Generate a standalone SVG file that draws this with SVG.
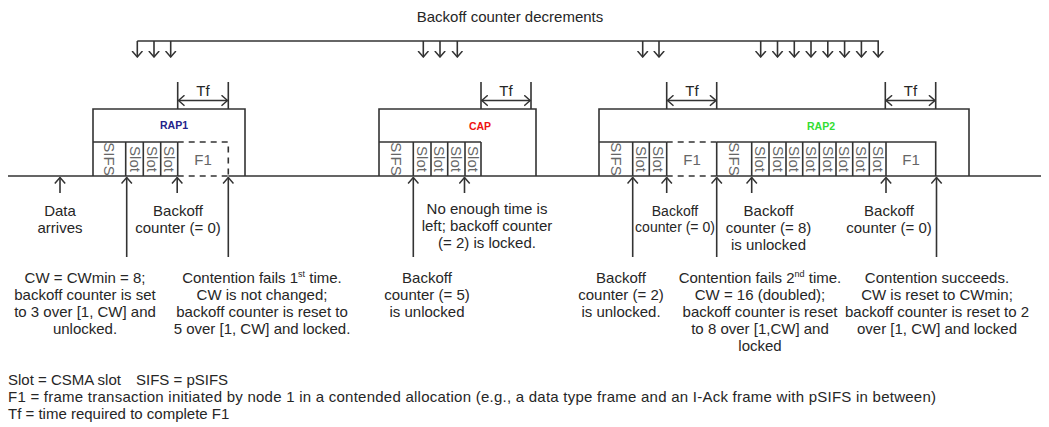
<svg xmlns="http://www.w3.org/2000/svg" width="1049" height="427" viewBox="0 0 1049 427">
  <defs>
    <style>
      .ln { stroke:#333; stroke-width:1.6; fill:none; }
      .dash { stroke-dasharray:6 5; }
      .t { font-family:"Liberation Sans", Arial, sans-serif; font-size:15px; fill:#262626; text-anchor:middle; }
      .lg { font-family:"Liberation Sans", Arial, sans-serif; font-size:15px; fill:#262626; }
      .cell { font-family:"Liberation Sans", Arial, sans-serif; font-size:15px; fill:#666; text-anchor:middle; }
      .lab { font-family:"Liberation Sans", Arial, sans-serif; font-size:10.5px; font-weight:bold; text-anchor:middle; }
      .arr { stroke:#333; stroke-width:1.6; fill:none; marker-end:url(#v); }
      .dbl { stroke:#333; stroke-width:1.6; fill:none; marker-start:url(#v); marker-end:url(#v); }
    </style>
    <marker id="v" viewBox="0 0 7 12" refX="6.5" refY="6" markerWidth="7" markerHeight="12" markerUnits="userSpaceOnUse" orient="auto-start-reverse">
      <path d="M0.5,0.8 L6.5,6 L0.5,11.2" fill="none" stroke="#333" stroke-width="1.5"/>
    </marker>
  </defs>

  <rect width="1049" height="427" fill="#fff"/>

  <!-- timeline -->
  <g id="timeline">
    <path class="ln" d="M8,176 H177.7 M228.3,176 H666.7 M716.7,176 H1041"/>
    <path class="ln dash" d="M177.7,176 H228.3 M666.7,176 H716.7"/>
  </g>

  <!-- RAP1 -->
  <g id="rap1">
    <path class="ln" d="M93,176 V109 H245 V176"/>
    <path class="ln" d="M93,142 H177.7 M125.7,142 V176 M143.3,142 V176 M160.7,142 V176 M177.7,142 V176"/>
    <path class="ln dash" d="M177.7,142 H228.3 V176"/>
    <text class="lab" x="174" y="129" fill="#23238a">RAP1</text>
    <text class="cell" transform="translate(109.3,159) rotate(90)" y="5">SIFS</text>
    <text class="cell" transform="translate(134.5,159) rotate(90)" y="5">Slot</text>
    <text class="cell" transform="translate(152,159) rotate(90)" y="5">Slot</text>
    <text class="cell" transform="translate(169.2,159) rotate(90)" y="5">Slot</text>
    <text class="cell" x="203" y="165">F1</text>
  </g>

  <!-- CAP -->
  <g id="cap">
    <path class="ln" d="M379,176 V109 H536 V176"/>
    <path class="ln" d="M379,142 H481 M413.3,142 V176 M431,142 V176 M447.7,142 V176 M465,142 V176 M481,142 V176"/>
    <text class="lab" x="480" y="130" fill="#ee1111">CAP</text>
    <text class="cell" transform="translate(396,159) rotate(90)" y="5">SIFS</text>
    <text class="cell" transform="translate(422.2,159) rotate(90)" y="5">Slot</text>
    <text class="cell" transform="translate(439.3,159) rotate(90)" y="5">Slot</text>
    <text class="cell" transform="translate(456.3,159) rotate(90)" y="5">Slot</text>
    <text class="cell" transform="translate(473,159) rotate(90)" y="5">Slot</text>
  </g>

  <!-- RAP2 -->
  <g id="rap2">
    <path class="ln" d="M599,176 V109 H969 V176"/>
    <path class="ln" d="M599,142 H666.7 M716.7,142 H935.7 V176 M632.7,142 V176 M649.3,142 V176 M666.7,142 V176 M716.7,142 V176 M751.7,142 V176 M769,142 V176 M786,142 V176 M802.7,142 V176 M819.3,142 V176 M836,142 V176 M852.7,142 V176 M869.3,142 V176 M886,142 V176"/>
    <path class="ln dash" d="M666.7,142 H716.7"/>
    <text class="lab" x="821" y="130" fill="#33dd33">RAP2</text>
    <text class="cell" transform="translate(615.8,159) rotate(90)" y="5">SIFS</text>
    <text class="cell" transform="translate(641,159) rotate(90)" y="5">Slot</text>
    <text class="cell" transform="translate(658,159) rotate(90)" y="5">Slot</text>
    <text class="cell" x="692" y="165">F1</text>
    <text class="cell" transform="translate(734.2,159) rotate(90)" y="5">SIFS</text>
    <text class="cell" transform="translate(760.3,159) rotate(90)" y="5">Slot</text>
    <text class="cell" transform="translate(777.5,159) rotate(90)" y="5">Slot</text>
    <text class="cell" transform="translate(794.3,159) rotate(90)" y="5">Slot</text>
    <text class="cell" transform="translate(811,159) rotate(90)" y="5">Slot</text>
    <text class="cell" transform="translate(827.7,159) rotate(90)" y="5">Slot</text>
    <text class="cell" transform="translate(844.3,159) rotate(90)" y="5">Slot</text>
    <text class="cell" transform="translate(861,159) rotate(90)" y="5">Slot</text>
    <text class="cell" transform="translate(877.7,159) rotate(90)" y="5">Slot</text>
    <text class="cell" x="911" y="165">F1</text>
  </g>

  <!-- connectors: decrement ticks, Tf spans, event arrows -->
  <g id="connectors">
    <path class="ln" d="M137.3,41 H879"/>
    <g>
      <path class="arr" d="M137.3,41 V57"/>
      <path class="arr" d="M154,41 V57"/>
      <path class="arr" d="M170.7,41 V57"/>
      <path class="arr" d="M423.3,41 V57"/>
      <path class="arr" d="M440,41 V57"/>
      <path class="arr" d="M457.3,41 V57"/>
      <path class="arr" d="M642.7,41 V57"/>
      <path class="arr" d="M659,41 V57"/>
      <path class="arr" d="M760.7,41 V57"/>
      <path class="arr" d="M777.5,41 V57"/>
      <path class="arr" d="M794.3,41 V57"/>
      <path class="arr" d="M811,41 V57"/>
      <path class="arr" d="M827.8,41 V57"/>
      <path class="arr" d="M844.6,41 V57"/>
      <path class="arr" d="M861.4,41 V57"/>
      <path class="arr" d="M878.2,41 V57"/>
    </g>
    <g>
      <path class="ln" d="M177.7,82 V109 M228.3,82 V109"/>
      <path class="dbl" d="M178.5,100.5 H227.5"/>
      <path class="ln" d="M481,82 V109 M531,82 V109"/>
      <path class="dbl" d="M481.8,100.5 H530.2"/>
      <path class="ln" d="M666.7,82 V109 M716.7,82 V109"/>
      <path class="dbl" d="M667.5,100.5 H715.9"/>
      <path class="ln" d="M885.3,82 V109 M935.7,82 V109"/>
      <path class="dbl" d="M886.1,100.5 H934.9"/>
    </g>
    <g>
      <path class="arr" d="M60,193 V177.5"/>
      <path class="arr" d="M126.7,257 V177.5"/>
      <path class="arr" d="M177.2,193 V177.5"/>
      <path class="arr" d="M228.3,257 V177.5"/>
      <path class="arr" d="M413.3,257 V177.5"/>
      <path class="arr" d="M464.5,193 V177.5"/>
      <path class="arr" d="M632.7,257 V177.5"/>
      <path class="arr" d="M666.7,193 V177.5"/>
      <path class="arr" d="M716.7,257 V177.5"/>
      <path class="arr" d="M751.7,193 V177.5"/>
      <path class="arr" d="M886,193 V177.5"/>
      <path class="arr" d="M936.5,257 V177.5"/>
    </g>
  </g>

  <!-- span labels -->
  <g id="tf-labels">
    <text class="t" x="203" y="96">Tf</text>
    <text class="t" x="506" y="96">Tf</text>
    <text class="t" x="692" y="96">Tf</text>
    <text class="t" x="910.5" y="96">Tf</text>
  </g>

  <g id="title">
    <text class="t" x="510" y="22">Backoff counter decrements</text>
  </g>

  <!-- event notes under the timeline -->
  <g id="notes-events">
    <text class="t" x="60" y="216">Data</text>
    <text class="t" x="60" y="233">arrives</text>
    <text class="t" x="178" y="216">Backoff</text>
    <text class="t" x="178" y="233">counter (= 0)</text>
    <text class="t" x="487" y="214">No enough time is</text>
    <text class="t" x="487" y="231">left; backoff counter</text>
    <text class="t" x="487" y="248">(= 2) is locked.</text>
    <text class="t" x="675" y="216" style="font-size:14px">Backoff</text>
    <text class="t" x="675" y="232" style="font-size:14px">counter (= 0)</text>
    <text class="t" x="768.5" y="216">Backoff</text>
    <text class="t" x="768.5" y="233">counter (= 8)</text>
    <text class="t" x="768.5" y="250">is unlocked</text>
    <text class="t" x="889" y="216">Backoff</text>
    <text class="t" x="889" y="233">counter (= 0)</text>
  </g>

  <!-- state notes -->
  <g id="notes-state">
    <text class="t" x="85" y="283">CW = CWmin = 8;</text>
    <text class="t" x="85" y="300">backoff counter is set</text>
    <text class="t" x="85" y="317">to 3 over [1, CW] and</text>
    <text class="t" x="85" y="334">unlocked.</text>

    <text class="t" x="262" y="283">Contention fails 1<tspan font-size="9" dy="-6">st</tspan><tspan dy="6"> time.</tspan></text>
    <text class="t" x="262" y="300">CW is not changed;</text>
    <text class="t" x="262" y="317">backoff counter is reset to</text>
    <text class="t" x="262" y="334">5 over [1, CW] and locked.</text>

    <text class="t" x="427" y="283">Backoff</text>
    <text class="t" x="427" y="300">counter (= 5)</text>
    <text class="t" x="427" y="317">is unlocked</text>

    <text class="t" x="621" y="283">Backoff</text>
    <text class="t" x="621" y="300">counter (= 2)</text>
    <text class="t" x="621" y="317">is unlocked.</text>

    <text class="t" x="760" y="283">Contention fails 2<tspan font-size="9" dy="-6">nd</tspan><tspan dy="6"> time.</tspan></text>
    <text class="t" x="760" y="300">CW = 16 (doubled);</text>
    <text class="t" x="760" y="317">backoff counter is reset</text>
    <text class="t" x="760" y="334">to 8 over [1,CW] and</text>
    <text class="t" x="760" y="351">locked</text>

    <text class="t" x="937" y="283">Contention succeeds.</text>
    <text class="t" x="937" y="300">CW is reset to CWmin;</text>
    <text class="t" x="937" y="317">backoff counter is reset to 2</text>
    <text class="t" x="937" y="334">over [1, CW] and locked</text>
  </g>

  <!-- legend -->
  <g id="legend">
    <text class="lg" x="8" y="385">Slot = CSMA slot</text>
    <text class="lg" x="136" y="385">SIFS = pSIFS</text>
    <text class="lg" x="8" y="402" textLength="928" lengthAdjust="spacing">F1 = frame transaction initiated by node 1 in a contended allocation (e.g., a data type frame and an I-Ack frame with pSIFS in between)</text>
    <text class="lg" x="8" y="419">Tf = time required to complete F1</text>
  </g>
</svg>
